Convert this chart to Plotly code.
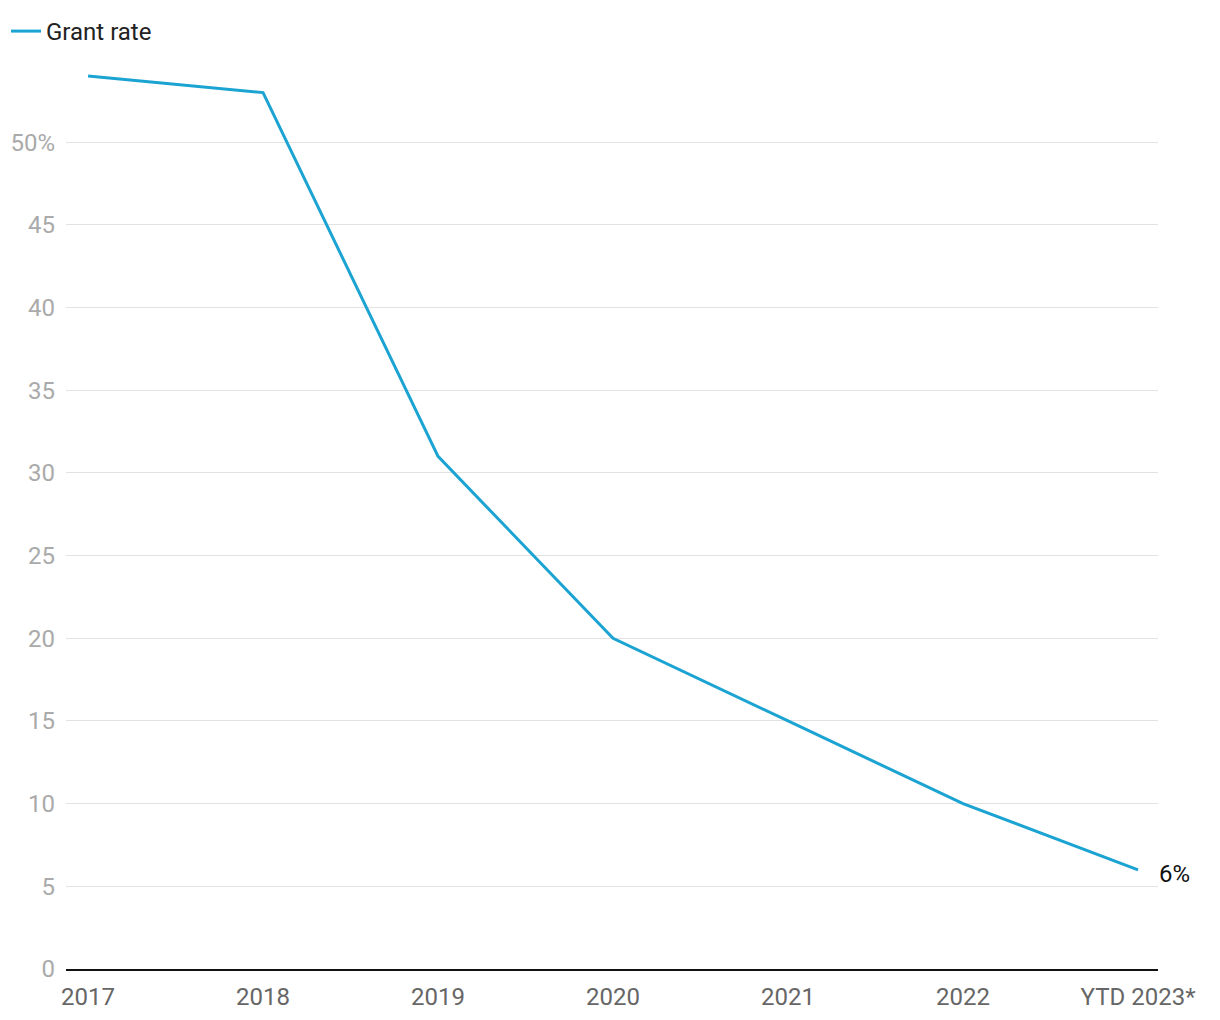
import plotly.graph_objects as go

categories = ["2017", "2018", "2019", "2020", "2021", "2022", "YTD 2023*"]
grant_rate = [54, 53, 31, 20, 15, 10, 6]
y_tickvals = [0, 5, 10, 15, 20, 25, 30, 35, 40, 45, 50]
y_ticktext = ["0", "5", "10", "15", "20", "25", "30", "35", "40", "45", "50%"]
end_label = "6%"

fig = go.Figure()
fig.add_trace(go.Scatter(
    x=list(range(len(categories))), y=grant_rate, mode="lines",
    name="Grant rate", line=dict(color="#1ba3d2", width=3),
    hoverinfo="skip",
))
fig.add_annotation(
    x=len(categories) - 1, y=grant_rate[-1], text=end_label,
    showarrow=False, xanchor="left", xshift=19, yshift=-4,
    font=dict(size=24, color="#111111", family="Roboto"),
)
fig.update_layout(
    width=1220, height=1020,
    margin=dict(l=66, r=62, t=43, b=51, autoexpand=False),
    plot_bgcolor="white", paper_bgcolor="white",
    font=dict(family="Roboto", size=24),
    showlegend=True,
    legend=dict(xref="container", yref="container", x=6 / 1220, y=1 - 9 / 1020,
                xanchor="left", yanchor="top", orientation="h",
                font=dict(size=24, color="#222222"), bgcolor="rgba(0,0,0,0)",
                borderwidth=0),
    xaxis=dict(
        range=[-0.126, 6.114], tickvals=list(range(len(categories))),
        ticktext=categories, showgrid=False, zeroline=False,
        showline=True, linecolor="#111111", linewidth=2,
        tickfont=dict(size=24, color="#666666"), ticks="",
        ticklabelstandoff=5,
    ),
    yaxis=dict(
        range=[0, 56], tickvals=y_tickvals, ticktext=y_ticktext,
        showgrid=True, gridcolor="#e2e2e2", gridwidth=1, zeroline=False,
        showline=False, tickfont=dict(size=24, color="#aaaaaa"), ticks="",
        ticklabelstandoff=10,
    ),
)
fig.write_html("out.html")
